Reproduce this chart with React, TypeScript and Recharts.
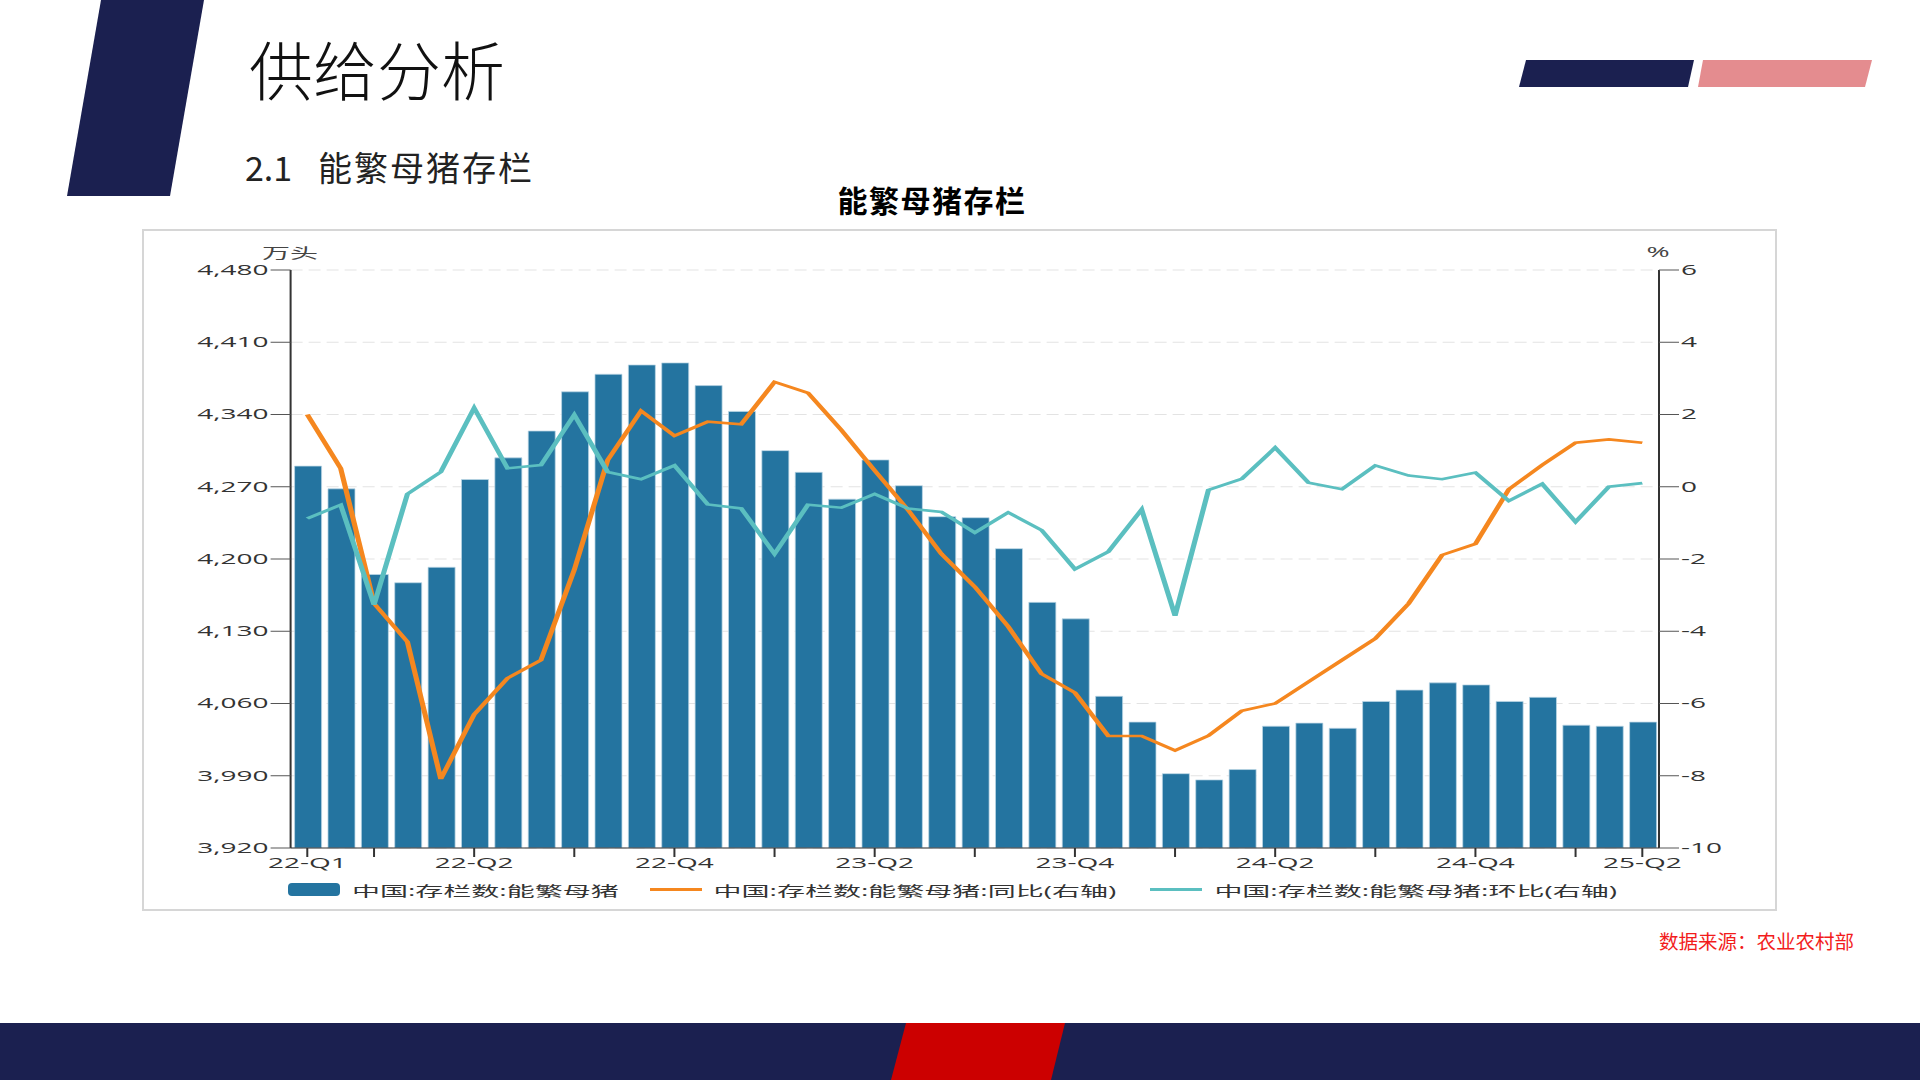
import { ComposedChart, Bar, Line, XAxis, YAxis, CartesianGrid } from "recharts";

const MONTHS = [
  "2022-01", "2022-02", "2022-03", "2022-04", "2022-05", "2022-06",
  "2022-07", "2022-08", "2022-09", "2022-10", "2022-11", "2022-12",
  "2023-01", "2023-02", "2023-03", "2023-04", "2023-05", "2023-06",
  "2023-07", "2023-08", "2023-09", "2023-10", "2023-11", "2023-12",
  "2024-01", "2024-02", "2024-03", "2024-04", "2024-05", "2024-06",
  "2024-07", "2024-08", "2024-09", "2024-10", "2024-11", "2024-12",
  "2025-01", "2025-02", "2025-03", "2025-04", "2025-05",
];

// 能繁母猪存栏（万头）
const SOW_STOCK = [
  4290, 4268, 4185, 4177, 4192, 4277, 4298, 4324, 4362, 4379, 4388, 4390,
  4368, 4343, 4305, 4284, 4258, 4296, 4271, 4241, 4240, 4210, 4158, 4142,
  4067, 4042, 3992, 3986, 3996, 4038, 4041, 4036, 4062, 4073, 4080, 4078,
  4062, 4066, 4039, 4038, 4042,
];

// 同比 %
const YOY = [
  2.0, 0.51, -3.23, -4.29, -8.09, -6.3, -5.3, -4.8, -2.3, 0.74, 2.1, 1.41,
  1.8, 1.73, 2.9, 2.6, 1.57, 0.45, -0.64, -1.86, -2.77, -3.87, -5.18, -5.7,
  -6.9, -6.9, -7.3, -6.89, -6.2, -6.0, -5.4, -4.8, -4.2, -3.23, -1.89, -1.58,
  -0.07, 0.6, 1.22, 1.31, 1.22,
];

// 环比 %
const MOM = [
  -0.88, -0.5, -3.27, -0.2, 0.41, 2.18, 0.51, 0.6, 1.99, 0.41, 0.21, 0.59,
  -0.49, -0.6, -1.86, -0.5, -0.58, -0.2, -0.6, -0.7, -1.27, -0.71, -1.2, -2.28,
  -1.8, -0.63, -3.57, -0.09, 0.22, 1.08, 0.11, -0.07, 0.59, 0.31, 0.21, 0.39,
  -0.39, 0.08, -0.97, 0.0, 0.1,
];

const LEFT_TICKS = [3920, 3990, 4060, 4130, 4200, 4270, 4340, 4410, 4480];
const RIGHT_TICKS = [-10, -8, -6, -4, -2, 0, 2, 4, 6];

const TICK_MONTHS = [
  "2022-01", "2022-03", "2022-06", "2022-09", "2022-12", "2023-03", "2023-06",
  "2023-09", "2023-12", "2024-03", "2024-06", "2024-09", "2024-12", "2025-03",
  "2025-05",
];

const QUARTER_LABELS: Record<string, string> = {
  "2022-01": "22-Q1",
  "2022-06": "22-Q2",
  "2022-12": "22-Q4",
  "2023-06": "23-Q2",
  "2023-12": "23-Q4",
  "2024-06": "24-Q2",
  "2024-12": "24-Q4",
  "2025-05": "25-Q2",
};

const SERIES = [
  { key: "stock", label: "中国:存栏数:能繁母猪", color: "#2474a0" },
  { key: "yoy", label: "中国:存栏数:能繁母猪:同比(右轴)", color: "#f5871f" },
  { key: "mom", label: "中国:存栏数:能繁母猪:环比(右轴)", color: "#5bbfc0" },
];

const FONT = '"Open Sans", "Noto Sans CJK SC", sans-serif';
const CJK = '"Noto Sans CJK SC", sans-serif';
const NAVY = "#1b2050";

const formatThousands = (v: number) => v.toLocaleString("en-US");

function MonthTick({ x, y, payload }: any) {
  const month = payload.value as string;
  if (!TICK_MONTHS.includes(month)) return <g />;
  const label = QUARTER_LABELS[month];
  return (
    <g>
      <line x1={x} x2={x} y1={y} y2={y + 9} stroke="#333" strokeWidth={1} />
      {label && (
        <text
          x={x}
          y={y + 14}
          textAnchor="middle"
          dominantBaseline="central"
          fontSize={14}
          fontFamily={FONT}
          fill="#333"
        >
          {label}
        </text>
      )}
    </g>
  );
}

const LEGEND_POS = [73.2, 254, 504.4];

export default function App() {
  const data = MONTHS.map((month, i) => ({
    month,
    stock: SOW_STOCK[i],
    yoy: YOY[i],
    mom: MOM[i],
  }));

  return (
    <div
      style={{
        position: "absolute",
        left: 0,
        top: 0,
        width: 1920,
        height: 1080,
        background: "#fff",
        overflow: "hidden",
        fontFamily: CJK,
      }}
    >
      <svg width={1920} height={1080} style={{ position: "absolute", left: 0, top: 0 }}>
        <polygon points="101,0 204,0 170,196 67,196" fill={NAVY} />
        <polygon points="1526,60 1694,60 1688,87 1519,87" fill={NAVY} />
        <polygon points="1703,60 1872,60 1865,87 1698,87" fill="#e48c8f" />
        <rect x={0} y={1023} width={1920} height={57} fill={NAVY} />
        <polygon points="906,1023 1065,1023 1051,1080 891,1080" fill="#cc0000" />
      </svg>

      <div
        style={{
          position: "absolute",
          left: 249,
          top: 35,
          fontSize: 64,
          lineHeight: "64px",
          fontWeight: 300,
          color: "#111",
          whiteSpace: "nowrap",
        }}
      >
        供给分析
      </div>
      <div
        style={{
          position: "absolute",
          left: 245,
          top: 150,
          fontSize: 34,
          lineHeight: "34px",
          color: "#222",
          whiteSpace: "nowrap",
        }}
      >
        2.1
      </div>
      <div
        style={{
          position: "absolute",
          left: 318,
          top: 150,
          fontSize: 34,
          lineHeight: "34px",
          letterSpacing: 2,
          color: "#222",
          whiteSpace: "nowrap",
        }}
      >
        能繁母猪存栏
      </div>

      <div
        style={{
          position: "absolute",
          left: 832,
          top: 184,
          width: 200,
          textAlign: "center",
          fontSize: 30,
          lineHeight: "30px",
          fontWeight: 700,
          letterSpacing: 1.5,
          color: "#000",
          whiteSpace: "nowrap",
        }}
      >
        能繁母猪存栏
      </div>

      <div
        style={{
          position: "absolute",
          left: 142,
          top: 229,
          width: 1635,
          height: 682,
          border: "2px solid #d6d6d6",
          boxSizing: "border-box",
        }}
      />

      {/* chart is drawn at half width and stretched like the pasted image */}
      <div
        style={{
          position: "absolute",
          left: 142,
          top: 229,
          width: 818,
          height: 682,
          transform: "scaleX(2)",
          transformOrigin: "0 0",
        }}
      >
        <ComposedChart
          width={818}
          height={682}
          data={data}
          margin={{ top: 41, right: 0, bottom: 33, left: 0 }}
        >
          <CartesianGrid
            yAxisId="left"
            vertical={false}
            stroke="#e3e3e3"
            strokeDasharray="6 3"
          />
          <XAxis
            dataKey="month"
            interval={0}
            height={30}
            tickSize={0}
            tickMargin={0}
            tickLine={false}
            axisLine={{ stroke: "#333" }}
            tick={<MonthTick />}
          />
          <YAxis
            yAxisId="left"
            domain={[3920, 4480]}
            ticks={LEFT_TICKS}
            width={74.3}
            tickSize={10}
            tickMargin={1}
            tickFormatter={formatThousands}
            axisLine={{ stroke: "#333" }}
            tickLine={{ stroke: "#555" }}
            tick={{ fontSize: 14, fill: "#333", fontFamily: FONT }}
            allowDataOverflow
          />
          <YAxis
            yAxisId="right"
            orientation="right"
            domain={[-10, 6]}
            ticks={RIGHT_TICKS}
            width={59.5}
            tickSize={10}
            tickMargin={1}
            axisLine={{ stroke: "#333" }}
            tickLine={{ stroke: "#555" }}
            tick={{ fontSize: 14, fill: "#333", fontFamily: FONT }}
          />
          <Bar
            yAxisId="left"
            dataKey="stock"
            fill={SERIES[0].color}
            stroke="#bcd7e6"
            strokeWidth={0.5}
            barSize={13.5}
            isAnimationActive={false}
          />
          <Line
            yAxisId="right"
            type="linear"
            dataKey="yoy"
            stroke={SERIES[1].color}
            strokeWidth={2.6}
            dot={false}
            activeDot={false}
            isAnimationActive={false}
          />
          <Line
            yAxisId="right"
            type="linear"
            dataKey="mom"
            stroke={SERIES[2].color}
            strokeWidth={2.6}
            dot={false}
            activeDot={false}
            isAnimationActive={false}
          />
        </ComposedChart>

        <div
          style={{
            position: "absolute",
            left: 74,
            top: 22.7,
            transform: "translate(-50%, -50%)",
            fontSize: 14,
            color: "#444",
            whiteSpace: "nowrap",
            fontFamily: CJK,
          }}
        >
          万头
        </div>
        <div
          style={{
            position: "absolute",
            left: 758,
            top: 22,
            transform: "translate(-50%, -50%)",
            fontSize: 14,
            color: "#444",
            whiteSpace: "nowrap",
            fontFamily: FONT,
          }}
        >
          %
        </div>

        {SERIES.map((s, i) => (
          <div
            key={s.key}
            style={{
              position: "absolute",
              left: LEGEND_POS[i],
              top: 650,
              height: 21,
              display: "flex",
              alignItems: "center",
              whiteSpace: "nowrap",
            }}
          >
            {i === 0 ? (
              <div
                style={{
                  width: 25.5,
                  height: 12.4,
                  background: s.color,
                  borderRadius: "2px / 4px",
                }}
              />
            ) : (
              <div style={{ width: 25.5, height: 2.5, background: s.color }} />
            )}
            <span
              style={{
                marginLeft: 6.3,
                fontSize: 14,
                color: "#333",
                fontFamily: FONT,
              }}
            >
              {s.label}
            </span>
          </div>
        ))}
      </div>

      <div
        style={{
          position: "absolute",
          left: 1659,
          top: 931,
          fontSize: 19.5,
          lineHeight: "19.5px",
          color: "#f21c1c",
          whiteSpace: "nowrap",
        }}
      >
        数据来源：农业农村部
      </div>
    </div>
  );
}
